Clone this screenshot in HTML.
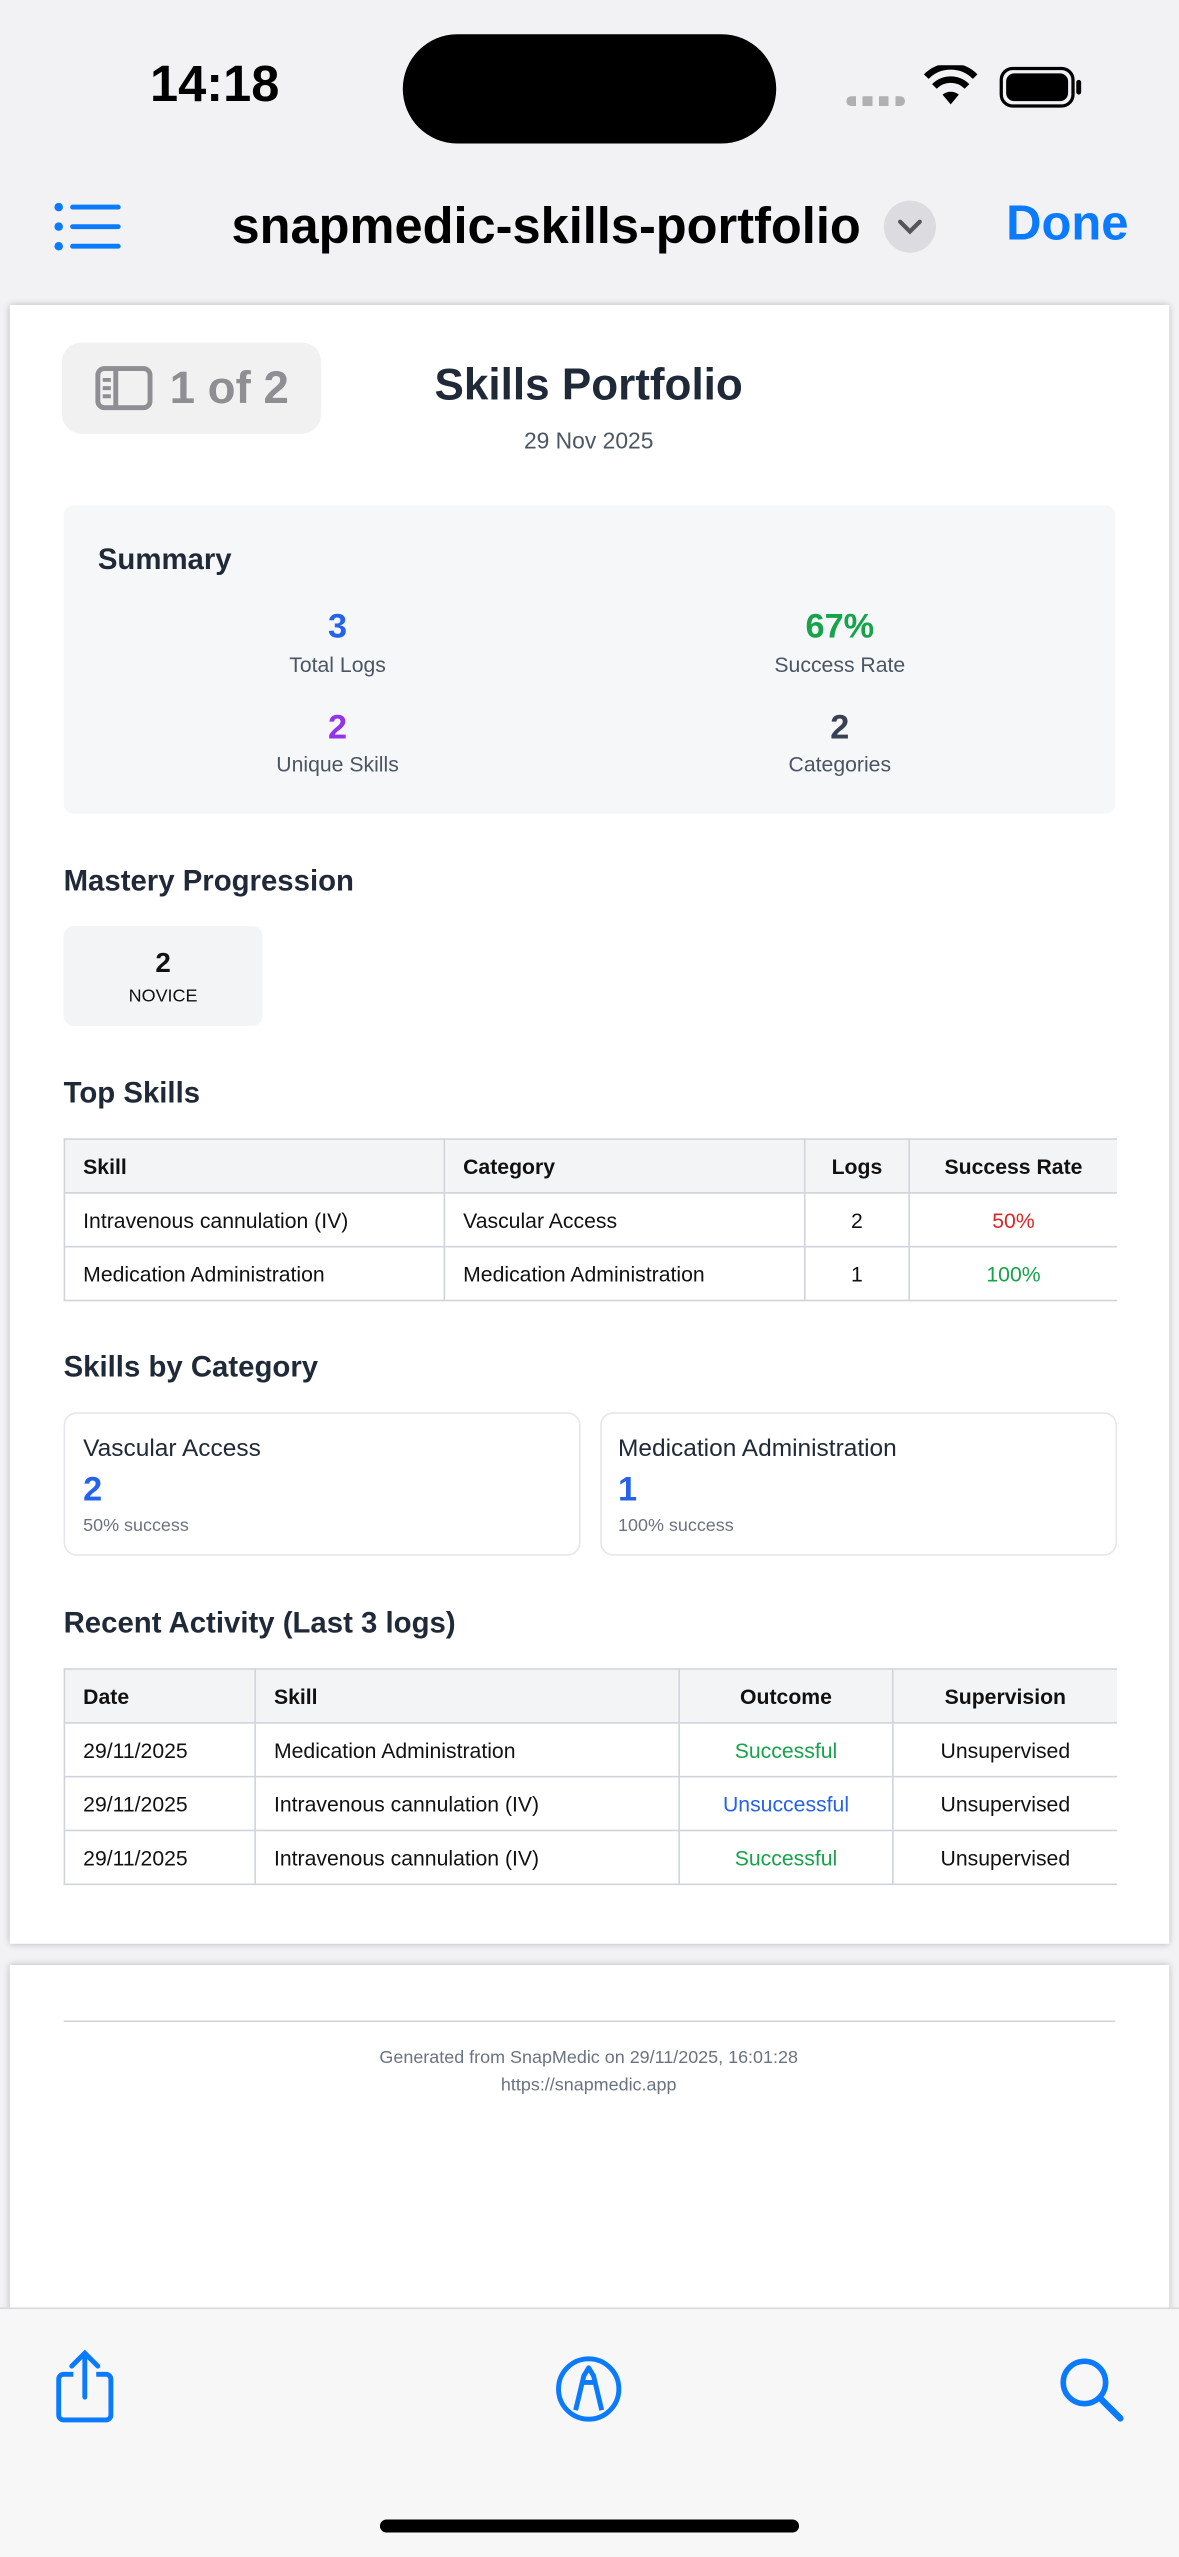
<!DOCTYPE html>
<html><head><meta charset="utf-8">
<style>
*{margin:0;padding:0;box-sizing:border-box}
html,body{width:1179px;height:2556px;overflow:hidden;background:#f2f2f4}
#s{position:absolute;left:0;top:0;width:723px;height:1568px;transform:scale(1.63071);transform-origin:0 0;font-family:"Liberation Sans",sans-serif;background:#f2f2f4}
.a{position:absolute}
.page{position:absolute;left:6px;width:711px;background:#fff;box-shadow:0 0 4px rgba(0,0,0,.25)}
.t{position:absolute;white-space:nowrap}
.c{transform:translateX(-50%);text-align:center}
table{position:absolute;border-collapse:collapse;font-size:13px;color:#111}
td,th{border:1px solid #d1d5db;padding:0 11px;height:33px;text-align:left}
td:last-child,th:last-child{border-right:none}
th{background:#f3f4f6;font-weight:bold}
.ce{text-align:center}
.card{position:absolute;border:1px solid #e5e7eb;border-radius:8px;top:866px;height:88px}
</style></head><body><div id="s">
<div class="t" style="left:92px;top:34px;font-size:31px;font-weight:bold;color:#000">14:18</div>
<div class="a" style="left:247px;top:21px;width:229px;height:67px;background:#000;border-radius:34px"></div>
<div class="a" style="left:519px;top:59px;width:36px;height:6px;background:repeating-linear-gradient(90deg,#b0b0b0 0 6px,transparent 6px 10px);border-radius:3px"></div>
<svg class="a" style="left:566px;top:40px" width="34" height="26" viewBox="0 0 34 26"><path d="M17 24 L12 18 A8 8 0 0 1 22 18 Z" fill="#000"/><path d="M7 13 A14 14 0 0 1 27 13" stroke="#000" stroke-width="4" fill="none"/><path d="M2 7 A21 21 0 0 1 32 7" stroke="#000" stroke-width="4" fill="none"/></svg>
<div class="a" style="left:613px;top:41px;width:46px;height:25px;border:2px solid #000;border-radius:8px;padding:2px"><div style="width:100%;height:100%;background:#000;border-radius:5px"></div></div>
<div class="a" style="left:660px;top:49px;width:3px;height:9px;background:#000;border-radius:2px"></div>
<svg class="a" style="left:33px;top:124px" width="42" height="30"><g fill="#0a7aff"><circle cx="3" cy="3" r="2.6"/><circle cx="3" cy="15" r="2.6"/><circle cx="3" cy="27" r="2.6"/><rect x="10" y="1.5" width="31" height="3" rx="1.5"/><rect x="10" y="13.5" width="31" height="3" rx="1.5"/><rect x="10" y="25.5" width="31" height="3" rx="1.5"/></g></svg>
<div class="t" style="left:142px;top:121px;font-size:31px;font-weight:bold;color:#000">snapmedic-skills-portfolio</div>
<div class="a" style="left:542px;top:123px;width:32px;height:32px;border-radius:16px;background:#dcdce0"></div>
<svg class="a" style="left:550px;top:132px" width="16" height="14"><path d="M2 4 L8 10 L14 4" stroke="#555" stroke-width="2.6" fill="none" stroke-linecap="round"/></svg>
<div class="t" style="left:617px;top:121px;font-size:30px;font-weight:bold;color:#0a7aff">Done</div>
<div class="page" style="top:187px;height:1005px"></div>
<div class="a" style="left:38px;top:210px;width:159px;height:56px;background:#f1f1f2;border-radius:12px"></div>
<svg class="a" style="left:58px;top:224px" width="36" height="28"><rect x="2" y="2" width="32" height="24" rx="4" stroke="#8e8e93" stroke-width="3" fill="none"/><line x1="13" y1="2" x2="13" y2="26" stroke="#8e8e93" stroke-width="3"/><g stroke="#8e8e93" stroke-width="2.4"><line x1="5" y1="9" x2="10" y2="9"/><line x1="5" y1="14" x2="10" y2="14"/><line x1="5" y1="19" x2="10" y2="19"/></g></svg>
<div class="t" style="left:104px;top:222px;font-size:28px;font-weight:bold;color:#8e8e93">1 of 2</div>
<div class="t c" style="left:361px;top:221px;font-size:27px;font-weight:bold;color:#1f2937">Skills Portfolio</div>
<div class="t c" style="left:361px;top:262px;font-size:14px;color:#4b5563">29 Nov 2025</div>
<div class="a" style="left:39px;top:310px;width:645px;height:189px;background:#f6f7f9;border-radius:6px"></div>
<div class="t" style="left:60px;top:333px;font-size:18px;font-weight:bold;color:#1f2937">Summary</div>
<div class="t c" style="left:207px;top:373px;font-size:21px;font-weight:bold;color:#2563eb">3</div>
<div class="t c" style="left:207px;top:400px;font-size:13px;color:#4b5563">Total Logs</div>
<div class="t c" style="left:515px;top:373px;font-size:21px;font-weight:bold;color:#16a34a">67%</div>
<div class="t c" style="left:515px;top:400px;font-size:13px;color:#4b5563">Success Rate</div>
<div class="t c" style="left:207px;top:435px;font-size:21px;font-weight:bold;color:#9333ea">2</div>
<div class="t c" style="left:207px;top:461px;font-size:13px;color:#4b5563">Unique Skills</div>
<div class="t c" style="left:515px;top:435px;font-size:21px;font-weight:bold;color:#374151">2</div>
<div class="t c" style="left:515px;top:461px;font-size:13px;color:#4b5563">Categories</div>
<div class="t" style="left:39px;top:530px;font-size:18px;font-weight:bold;color:#1f2937">Mastery Progression</div>
<div class="a" style="left:39px;top:568px;width:122px;height:61px;background:#f3f4f6;border-radius:6px"></div>
<div class="t c" style="left:100px;top:581px;font-size:17px;font-weight:bold;color:#111">2</div>
<div class="t c" style="left:100px;top:605px;font-size:11px;color:#111">NOVICE</div>
<div class="t" style="left:39px;top:660px;font-size:18px;font-weight:bold;color:#1f2937">Top Skills</div>
<table style="left:39px;top:698px;width:646px">
<tr><th style="width:233px">Skill</th><th style="width:221px">Category</th><th class="ce" style="width:64px">Logs</th><th class="ce">Success Rate</th></tr>
<tr><td>Intravenous cannulation (IV)</td><td>Vascular Access</td><td class="ce">2</td><td class="ce" style="color:#dc2626">50%</td></tr>
<tr><td>Medication Administration</td><td>Medication Administration</td><td class="ce">1</td><td class="ce" style="color:#16a34a">100%</td></tr>
</table>
<div class="t" style="left:39px;top:828px;font-size:18px;font-weight:bold;color:#1f2937">Skills by Category</div>
<div class="card" style="left:39px;width:317px"></div>
<div class="card" style="left:368px;width:317px"></div>
<div class="t" style="left:51px;top:880px;font-size:15px;color:#1f2937">Vascular Access</div>
<div class="t" style="left:51px;top:902px;font-size:21px;font-weight:bold;color:#2563eb">2</div>
<div class="t" style="left:51px;top:930px;font-size:11px;color:#6b7280">50% success</div>
<div class="t" style="left:379px;top:880px;font-size:15px;color:#1f2937">Medication Administration</div>
<div class="t" style="left:379px;top:902px;font-size:21px;font-weight:bold;color:#2563eb">1</div>
<div class="t" style="left:379px;top:930px;font-size:11px;color:#6b7280">100% success</div>
<div class="t" style="left:39px;top:985px;font-size:18px;font-weight:bold;color:#1f2937">Recent Activity (Last 3 logs)</div>
<table style="left:39px;top:1023px;width:646px">
<tr><th style="width:117px">Date</th><th style="width:260px">Skill</th><th class="ce" style="width:131px">Outcome</th><th class="ce">Supervision</th></tr>
<tr><td>29/11/2025</td><td>Medication Administration</td><td class="ce" style="color:#16a34a">Successful</td><td class="ce">Unsupervised</td></tr>
<tr><td>29/11/2025</td><td>Intravenous cannulation (IV)</td><td class="ce" style="color:#2563eb">Unsuccessful</td><td class="ce">Unsupervised</td></tr>
<tr><td>29/11/2025</td><td>Intravenous cannulation (IV)</td><td class="ce" style="color:#16a34a">Successful</td><td class="ce">Unsupervised</td></tr>
</table>
<div class="page" style="top:1205px;height:215px"></div>
<div class="a" style="left:39px;top:1239px;width:645px;height:1px;background:#d1d5db"></div>
<div class="t c" style="left:361px;top:1256px;font-size:11px;color:#6b7280">Generated from SnapMedic on 29/11/2025, 16:01:28</div>
<div class="t c" style="left:361px;top:1273px;font-size:11px;color:#6b7280">https://snapmedic.app</div>
<div class="a" style="left:0;top:1415px;width:723px;height:153px;background:#f7f7f7;border-top:1px solid #d8d8d8"></div>
<svg class="a" style="left:33px;top:1440px" width="38" height="46"><path d="M12 16 H6 A3 3 0 0 0 3 19 V41 A3 3 0 0 0 6 44 H32 A3 3 0 0 0 35 41 V19 A3 3 0 0 0 32 16 H26" stroke="#0a7aff" stroke-width="3" fill="none"/><path d="M19 30 V4 M11 11 L19 3 L27 11" stroke="#0a7aff" stroke-width="3" fill="none" stroke-linecap="round"/></svg>
<svg class="a" style="left:340px;top:1444px" width="42" height="42"><circle cx="21" cy="21" r="18.5" stroke="#0a7aff" stroke-width="3" fill="none"/><path d="M13 34 L18 13 L21 8 L24 13 L29 34" stroke="#0a7aff" stroke-width="3" fill="none" stroke-linejoin="round"/><path d="M17 17 H25" stroke="#0a7aff" stroke-width="3"/></svg>
<svg class="a" style="left:649px;top:1445px" width="42" height="42"><circle cx="16" cy="16" r="13" stroke="#0a7aff" stroke-width="3.4" fill="none"/><line x1="26" y1="26" x2="38" y2="38" stroke="#0a7aff" stroke-width="4" stroke-linecap="round"/></svg>
<div class="a" style="left:233px;top:1545px;width:257px;height:8px;background:#000;border-radius:4px"></div>
</div></body></html>
